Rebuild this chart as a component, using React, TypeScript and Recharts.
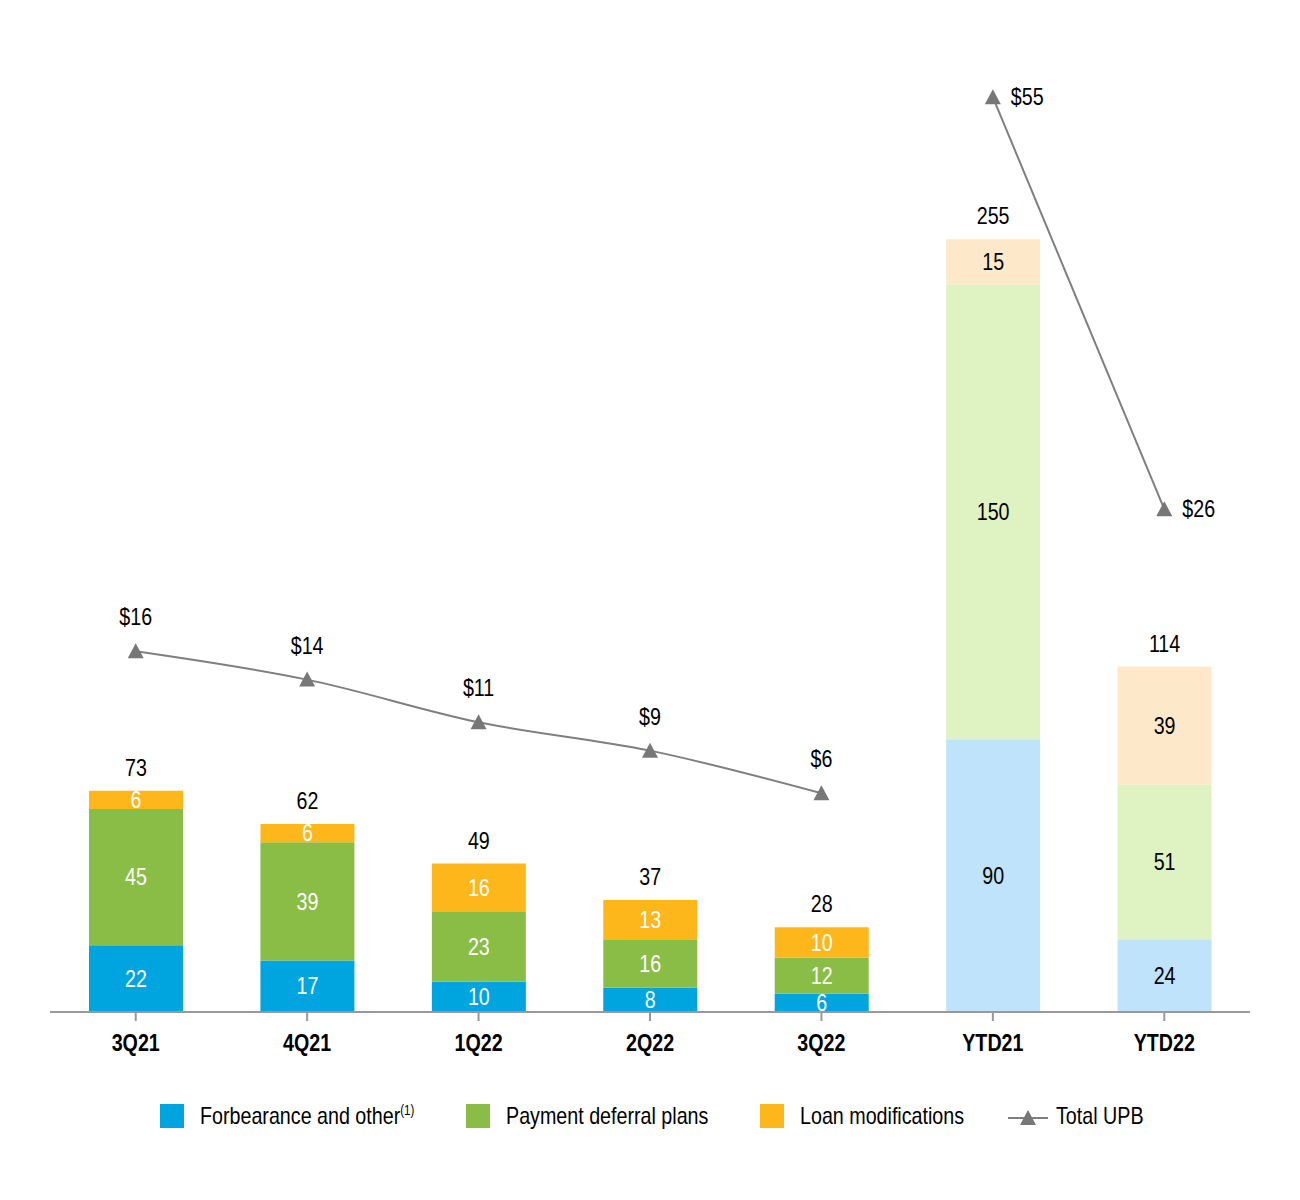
import React from 'react';
import { ComposedChart, Bar, Line, XAxis, YAxis, Cell, LabelList } from 'recharts';

const categories = ['3Q21', '4Q21', '1Q22', '2Q22', '3Q22', 'YTD21', 'YTD22'];
const forbearance = [22, 17, 10, 8, 6, 90, 24];
const deferral = [45, 39, 23, 16, 12, 150, 51];
const modifications = [6, 6, 16, 13, 10, 15, 39];
const totals = [73, 62, 49, 37, 28, 255, 114];
const upbQuarter: (number | null)[] = [16, 14, 11, 9, 6, null, null];
const upbYtd: (number | null)[] = [null, null, null, null, null, 55, 26];
const isYtd = [false, false, false, false, false, true, true];

const FONT = '"Liberation Sans", Arial, sans-serif';
const SX = 0.82;
const DARK = { f: '#00A5E0', d: '#8ABD45', m: '#FDB71A' };
const LIGHT = { f: '#BEE3FB', d: '#DFF2C2', m: '#FDE9C9' };
const LINE = '#7F7F7F';

const data = categories.map((c, i) => ({
  cat: c,
  f: forbearance[i],
  d: deferral[i],
  m: modifications[i],
  total: totals[i],
  upbQ: upbQuarter[i],
  upbY: upbYtd[i],
}));

const CText = ({ x, y, anchor = 'middle', fill = '#000', bold = false, size = 24, children }: any) => (
  <text
    transform={`translate(${x},${y}) scale(${SX},1)`}
    x={0}
    y={0}
    textAnchor={anchor}
    dominantBaseline="central"
    fontFamily={FONT}
    fontSize={size}
    fontWeight={bold ? 'bold' : 'normal'}
    fill={fill}
  >
    {children}
  </text>
);

const segLabel = (props: any) => {
  const { x, y, width, height, value, index } = props;
  return (
    <CText x={x + width / 2} y={y + height / 2} fill={isYtd[index] ? '#000' : '#fff'}>
      {value}
    </CText>
  );
};

const totalLabel = (props: any) => {
  const { x, y, width, index } = props;
  return (
    <CText x={x + width / 2} y={y - 23}>
      {totals[index]}
    </CText>
  );
};

const tri = (props: any) => {
  const { cx, cy, index } = props;
  if (cx == null || cy == null || props.value == null) return <g key={`t${index}`} />;
  return (
    <polygon
      key={`t${index}`}
      points={`${cx},${cy - 8} ${cx - 8},${cy + 7} ${cx + 8},${cy + 7}`}
      fill="#777"
    />
  );
};

const upbLabelAbove = (props: any) => {
  const { x, y, value } = props;
  if (value == null) return null;
  return <CText x={x} y={y - 34}>${value}</CText>;
};

const upbLabelRight = (props: any) => {
  const { x, y, value } = props;
  if (value == null) return null;
  return (
    <CText x={x + 18} y={y} anchor="start">
      ${value}
    </CText>
  );
};

const renderTick = (props: any) => {
  const { x, y, payload } = props;
  return (
    <CText x={x} y={y + 20} bold>
      {payload.value}
    </CText>
  );
};

const legText: React.CSSProperties = {
  position: 'absolute',
  top: 0,
  whiteSpace: 'nowrap',
  transform: `scaleX(${SX})`,
  transformOrigin: 'left center',
  lineHeight: '28px',
};

const Legend = () => (
  <div style={{ position: 'absolute', left: 0, top: 1094, width: 1284, height: 30, fontFamily: FONT, fontSize: 24, color: '#000' }}>
    <div style={{ position: 'absolute', left: 152, top: 2, width: 24, height: 24, background: DARK.f }} />
    <div style={{ ...legText, left: 192 }}>
      Forbearance and other<sup style={{ fontSize: 14, verticalAlign: 'top', lineHeight: '16px' }}>(1)</sup>
    </div>
    <div style={{ position: 'absolute', left: 458, top: 2, width: 24, height: 24, background: DARK.d }} />
    <div style={{ ...legText, left: 498 }}>Payment deferral plans</div>
    <div style={{ position: 'absolute', left: 752, top: 2, width: 24, height: 24, background: DARK.m }} />
    <div style={{ ...legText, left: 792 }}>Loan modifications</div>
    <svg style={{ position: 'absolute', left: 1000, top: 2 }} width={42} height={24}>
      <line x1={0} y1={14} x2={40} y2={14} stroke={LINE} strokeWidth={2} />
      <polygon points="20,6 12,21 28,21" fill="#777" />
    </svg>
    <div style={{ ...legText, left: 1048 }}>Total UPB</div>
  </div>
);

export default function App() {
  return (
    <div style={{ position: 'relative', width: 1284, height: 1180, background: '#fff' }}>
      <ComposedChart
        width={1284}
        height={1180}
        data={data}
        margin={{ top: 4, right: 42, bottom: 146, left: 42 }}
        barSize={94}
      >
        <XAxis
          dataKey="cat"
          tick={renderTick}
          tickLine={{ stroke: '#999', strokeWidth: 2 }}
          tickSize={9}
          axisLine={{ stroke: '#999', strokeWidth: 2 }}
          interval={0}
          height={30}
        />
        <YAxis yAxisId="bar" hide domain={[0, 330]} />
        <YAxis yAxisId="line" hide domain={[-9.4, 61]} orientation="right" />
        <Bar dataKey="f" stackId="s" yAxisId="bar" isAnimationActive={false}>
          {data.map((_, i) => (
            <Cell key={i} fill={isYtd[i] ? LIGHT.f : DARK.f} />
          ))}
          <LabelList dataKey="f" content={segLabel} />
        </Bar>
        <Bar dataKey="d" stackId="s" yAxisId="bar" isAnimationActive={false}>
          {data.map((_, i) => (
            <Cell key={i} fill={isYtd[i] ? LIGHT.d : DARK.d} />
          ))}
          <LabelList dataKey="d" content={segLabel} />
        </Bar>
        <Bar dataKey="m" stackId="s" yAxisId="bar" isAnimationActive={false}>
          {data.map((_, i) => (
            <Cell key={i} fill={isYtd[i] ? LIGHT.m : DARK.m} />
          ))}
          <LabelList dataKey="m" content={segLabel} />
          <LabelList dataKey="total" content={totalLabel} />
        </Bar>
        <Line
          yAxisId="line"
          dataKey="upbQ"
          type="monotone"
          stroke={LINE}
          strokeWidth={2}
          dot={tri}
          activeDot={false}
          isAnimationActive={false}
          connectNulls={false}
        >
          <LabelList dataKey="upbQ" content={upbLabelAbove} />
        </Line>
        <Line
          yAxisId="line"
          dataKey="upbY"
          type="linear"
          stroke={LINE}
          strokeWidth={2}
          dot={tri}
          activeDot={false}
          isAnimationActive={false}
          connectNulls={false}
        >
          <LabelList dataKey="upbY" content={upbLabelRight} />
        </Line>
      </ComposedChart>
      <Legend />
    </div>
  );
}
